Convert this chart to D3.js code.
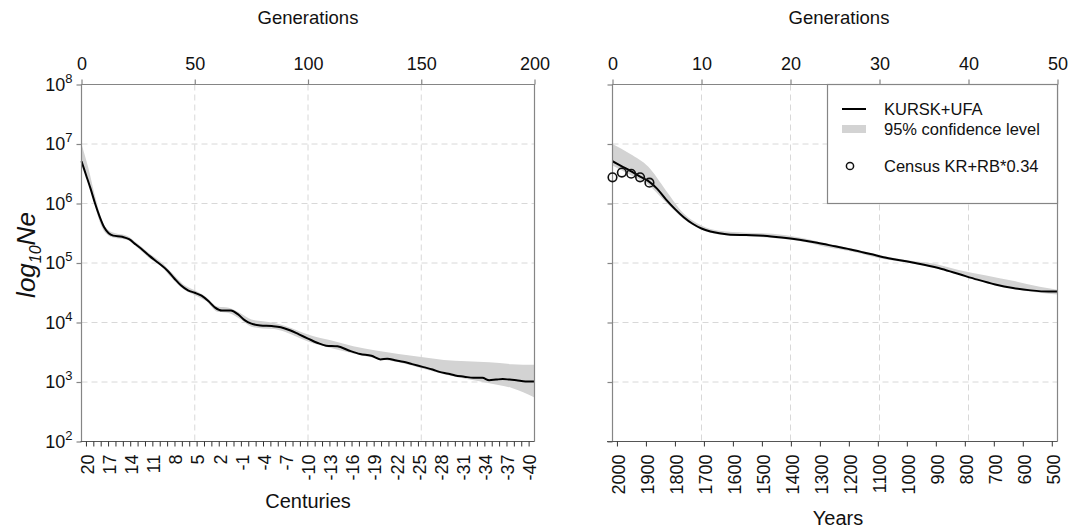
<!DOCTYPE html>
<html><head><meta charset="utf-8">
<script src="https://cdn.jsdelivr.net/npm/d3@7"></script>
<style>
body{margin:0;background:#fff;}
svg{display:block;font-family:"Liberation Sans",Arial,Helvetica,sans-serif;}
</style></head><body>
<svg id="c" width="1084" height="529"></svg>
<script>
// ---------- DATA ----------
const leftGen = [0,2,4,6,8,10,12,14,18,21,24,27,30,34,38,41,44,47,50,53,56,59,62,66,69,72,75,79,84,88,92,96,100,104,108,113,118,123,128,132,135,139,142,146,151,155,158,162,165,169,173,177,180,183,186,189,192,196,200];
const leftLogNe = [6.71,6.48,6.25,6.0,5.78,5.60,5.50,5.46,5.44,5.40,5.31,5.22,5.12,5.00,4.87,4.74,4.62,4.54,4.50,4.45,4.36,4.25,4.20,4.20,4.14,4.04,3.98,3.95,3.94,3.92,3.87,3.80,3.73,3.66,3.61,3.60,3.53,3.47,3.44,3.38,3.39,3.36,3.34,3.30,3.25,3.21,3.17,3.14,3.11,3.09,3.07,3.07,3.03,3.04,3.05,3.04,3.03,3.01,3.01];
const leftBandGen = [0,3,6,9,12,15,20,25,30,35,40,45,50,55,60,65,70,75,80,85,90,95,100,110,120,130,140,150,160,170,180,190,200];
const leftUpper = [7.0,6.6,6.12,5.72,5.55,5.50,5.46,5.32,5.16,5.02,4.83,4.64,4.54,4.43,4.27,4.25,4.16,4.05,4.02,3.99,3.94,3.87,3.80,3.70,3.60,3.53,3.47,3.42,3.37,3.35,3.33,3.30,3.29];
const leftLower = [6.65,6.38,5.95,5.60,5.46,5.42,5.39,5.25,5.08,4.95,4.74,4.56,4.46,4.36,4.18,4.16,4.06,3.93,3.90,3.89,3.84,3.76,3.68,3.57,3.48,3.40,3.33,3.23,3.13,3.05,2.98,2.90,2.74];

const rightGen = [0,1,2,3,4,5,6,7,8,9,10,11,12,13,15,17,19,21,23,25,27,29,31,33,35,37,39,41,43,45,47,49,50];
const rightLogNe = [6.71,6.63,6.55,6.46,6.38,6.25,6.07,5.91,5.77,5.66,5.58,5.53,5.50,5.48,5.47,5.46,5.43,5.39,5.34,5.28,5.22,5.15,5.08,5.03,4.97,4.90,4.81,4.72,4.64,4.58,4.54,4.52,4.52];
const rightBandGen = [0,2,4,6,8,10,12,15,18,21,24,27,30,33,36,39,42,45,48,50];
const rightUpper = [7.0,6.83,6.62,6.22,5.83,5.63,5.54,5.51,5.49,5.43,5.33,5.24,5.13,5.05,4.99,4.88,4.79,4.70,4.60,4.55];
const rightLower = [6.64,6.48,6.32,6.02,5.74,5.56,5.48,5.45,5.42,5.37,5.27,5.19,5.08,5.01,4.93,4.82,4.67,4.57,4.50,4.47];

const censusGen = [0,1.05,2.1,3.1,4.15];
const censusLogNe = [6.44,6.52,6.50,6.44,6.35];

const yTickExp = [2,3,4,5,6,7,8];
const leftGenTicks = [0,50,100,150,200];
const rightGenTicks = [0,10,20,30,40,50];
const centuryTicks = d3.range(20,-41,-1);
const centuryLabels = d3.range(20,-41,-3);
const yearTicks = d3.range(2000,499,-100);

const legendLabels = ["KURSK+UFA","95% confidence level","Census KR+RB*0.34"];

// ---------- LAYOUT ----------
const Y0 = 2017, GEN_YEARS = 30.7;
const yTop = 84.5, yBot = 441.5;
const svg = d3.select("#c");
const y = d3.scaleLog().domain([1e2,1e8]).range([yBot, yTop]);
const xL = d3.scaleLinear().domain([0,200]).range([81.5,534.5]);
const xR = d3.scaleLinear().domain([0,50]).range([612.5,1057.5]);
const yearToGen = yr => (Y0 - yr)/GEN_YEARS;

const gridCol = "#d8d8d8", spineCol = "#858585", bandCol = "#d3d3d3";

function panel(x, genTicks, gridGens, lineG, lineV, bandG, up, lo, showYLabels){
  const g = svg.append("g");
  const [x0,x1] = x.range();
  g.selectAll(".hg").data(yTickExp.filter(e=>e>2&&e<8)).join("line")
    .attr("x1",x0).attr("x2",x1).attr("y1",e=>y(10**e)).attr("y2",e=>y(10**e))
    .attr("stroke",gridCol).attr("stroke-dasharray","6,4");
  g.selectAll(".vg").data(gridGens).join("line")
    .attr("x1",d=>x(d)).attr("x2",d=>x(d)).attr("y1",yTop).attr("y2",yBot)
    .attr("stroke",gridCol).attr("stroke-dasharray","6,4");
  const band = bandG.map((d,i)=>({g:d,u:10**up[i],l:10**lo[i]}));
  g.append("path").datum(band)
    .attr("d", d3.area().x(d=>x(d.g)).y0(d=>y(d.l)).y1(d=>y(d.u)).curve(d3.curveMonotoneX))
    .attr("fill",bandCol);
  const ln = lineG.map((d,i)=>({g:d,v:10**lineV[i]}));
  g.append("path").datum(ln)
    .attr("d", d3.line().x(d=>x(d.g)).y(d=>y(d.v)).curve(d3.curveMonotoneX))
    .attr("fill","none").attr("stroke","#000").attr("stroke-width",2);
  g.append("path").attr("d",`M${x0},${yBot}V${yTop}H${x1}V${yBot}`)
    .attr("fill","none").attr("stroke",spineCol).attr("stroke-width",1.2);
  const ta = g.append("g").attr("transform",`translate(0,${yTop})`)
    .call(d3.axisTop(x).tickValues(genTicks).tickSize(5).tickPadding(10).tickFormat(d3.format("d")));
  ta.select(".domain").remove();
  ta.selectAll("line").attr("stroke",spineCol).attr("stroke-width",1.2);
  ta.selectAll("text").attr("font-size",18).attr("fill","#111");
  ta.attr("font-family",null).attr("font-size",null);
  const la = g.append("g").attr("transform",`translate(${x0},0)`)
    .call(d3.axisLeft(y).tickValues(yTickExp.map(e=>10**e)).tickSize(5).tickFormat(""));
  la.select(".domain").remove();
  la.selectAll("line").attr("stroke",spineCol).attr("stroke-width",1.2);
  if(showYLabels){
    const t = g.selectAll(".yl").data(yTickExp).join("text")
      .attr("x",x0-9).attr("y",e=>y(10**e)+6).attr("text-anchor","end")
      .attr("font-size",18).attr("fill","#111");
    t.append("tspan").text("10");
    t.append("tspan").attr("dy",-8).attr("font-size",13).text(e=>e);
  }
  return g;
}

panel(xL, leftGenTicks, [50,100,150], leftGen, leftLogNe, leftBandGen, leftUpper, leftLower, true);
panel(xR, rightGenTicks, [10,20,30,40], rightGen, rightLogNe, rightBandGen, rightUpper, rightLower, false);

function bottomAxis(x, vals, labelVals, toGen, fmt, lineStart){
  const g = svg.append("g").attr("transform",`translate(0,${yBot})`);
  const [x0,x1] = x.range();
  g.append("line").attr("x1",lineStart).attr("x2",x1).attr("y1",0).attr("y2",0)
    .attr("stroke","#555").attr("stroke-width",1.2);
  g.selectAll(".bt").data(vals).join("line")
    .attr("x1",d=>x(toGen(d))).attr("x2",d=>x(toGen(d))).attr("y1",0).attr("y2",5)
    .attr("stroke","#333").attr("stroke-width",1);
  g.selectAll(".bl").data(labelVals).join("text")
    .attr("transform",d=>`translate(${x(toGen(d))+1},13) rotate(-90)`)
    .attr("text-anchor","end").attr("dy","0.35em")
    .attr("font-size",18).attr("fill","#111").text(fmt);
}
bottomAxis(xL, centuryTicks, centuryLabels, c=>yearToGen(100*c-50), d=>d, 80.5);
bottomAxis(xR, yearTicks, yearTicks, yr=>yearToGen(yr), d=>d, 607);

svg.append("g").selectAll("circle").data(censusGen).join("circle")
  .attr("cx",d=>xR(d)).attr("cy",(d,i)=>y(10**censusLogNe[i])).attr("r",4.3)
  .attr("fill","none").attr("stroke","#111").attr("stroke-width",1.6);

svg.append("text").attr("x",308).attr("y",24).attr("text-anchor","middle").attr("font-size",18.5).attr("fill","#111").text("Generations");
svg.append("text").attr("x",839).attr("y",24).attr("text-anchor","middle").attr("font-size",18.5).attr("fill","#111").text("Generations");
svg.append("text").attr("x",308).attr("y",508).attr("text-anchor","middle").attr("font-size",20).attr("fill","#111").text("Centuries");
svg.append("text").attr("x",838).attr("y",525).attr("text-anchor","middle").attr("font-size",20).attr("fill","#111").text("Years");

const yl = svg.append("text").attr("transform","translate(35,255) rotate(-90)")
  .attr("text-anchor","middle").attr("font-size",26).attr("fill","#111").attr("font-style","italic");
yl.append("tspan").text("log");
yl.append("tspan").attr("font-size",16).attr("dy",6).text("10");
yl.append("tspan").attr("dy",-6).text("Ne");

const lg = svg.append("g");
lg.append("rect").attr("x",827.5).attr("y",84.5).attr("width",230).attr("height",119)
  .attr("fill","#fff").attr("stroke",spineCol).attr("stroke-width",1.2);
lg.append("line").attr("x1",842).attr("x2",866).attr("y1",109).attr("y2",109).attr("stroke","#000").attr("stroke-width",2);
lg.append("rect").attr("x",842).attr("y",125).attr("width",24).attr("height",8).attr("fill",bandCol);
lg.append("circle").attr("cx",850).attr("cy",166).attr("r",3.6).attr("fill","none").attr("stroke","#111").attr("stroke-width",1.5);
lg.selectAll(".lt").data(legendLabels).join("text")
  .attr("x",884).attr("y",(d,i)=>[115,134.5,172][i]).attr("font-size",16.5).attr("fill","#111").text(d=>d);
</script></body></html>
